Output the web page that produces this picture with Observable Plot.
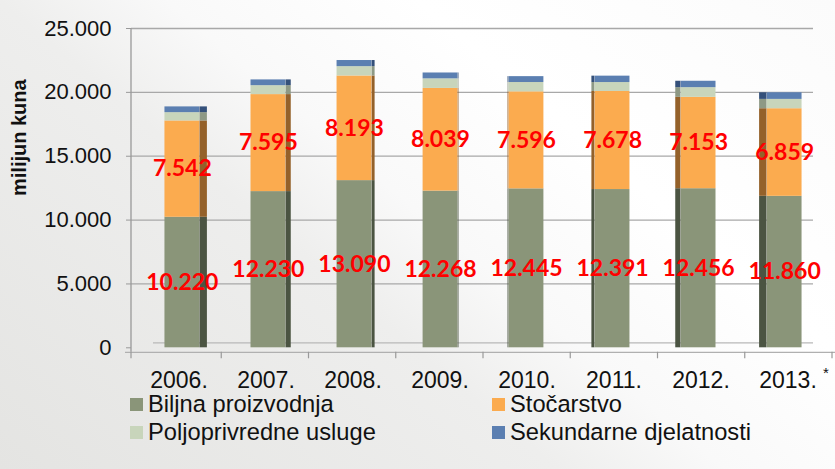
<!DOCTYPE html>
<html><head><meta charset="utf-8">
<script src="https://cdn.jsdelivr.net/npm/d3@7"></script>
<script src="https://cdn.jsdelivr.net/npm/@observablehq/plot@0.6"></script>
<style>
html,body{margin:0;padding:0;}
body{width:835px;height:469px;overflow:hidden;position:relative;font-family:"Liberation Sans",Arial,sans-serif;
 background:linear-gradient(40deg,#e4e4e2 0%,#eeeeed 40%,#f9f9f9 52%,#ffffff 70%,#fbfbfb 100%);}
#chart{position:absolute;left:0;top:0;}
#legend{position:absolute;left:130px;top:390px;display:grid;grid-template-columns:362px auto;}
.item{display:flex;align-items:center;font-size:23.7px;color:#111;height:28px;line-height:28px;white-space:nowrap;}
.sw{width:13px;height:13px;margin-right:5px;flex:none;}
</style></head><body><div id="chart"></div><div id="legend"></div>
<script>
const years = ["2006.","2007.","2008.","2009.","2010.","2011.","2012.","2013."];
const categories = ["Biljna proizvodnja","Stočarstvo","Poljoprivredne usluge","Sekundarne djelatnosti"];
const biljna = [10220,12230,13090,12268,12445,12391,12456,11860];
const stocarstvo = [7542,7595,8193,8039,7596,7678,7153,6859];
const usluge = [650,700,730,750,730,700,760,730];
const sekundarne = [450,450,480,460,460,500,500,520];
const yTicks = [0,5000,10000,15000,20000,25000];
const frontColors = ["#8a9579","#fbab4f","#c8d5bb","#5b7fb1"];
const sideColors = ["#4b5442","#94612a","#8e9985","#34507a"];

const series = [biljna, stocarstvo, usluge, sekundarne];
const data = years.flatMap((yr, i) => categories.map((c, j) => ({year: yr, cat: c, ci: j, value: series[j][i]})));
const fmt = v => d3.format(",")(v).replace(/,/g, ".");

const x0 = 134, x1 = 832;
const bw = (x1 - x0) / years.length, fw = 35;
const marks = [
  Plot.ruleY(yTicks.slice(1), {stroke: "#a8a8a8", strokeWidth: 1.3, insetRight: 22}),
  Plot.ruleY([0], {stroke: "#b8b8b8", strokeWidth: 1.2, dy: -5, insetLeft: 22, insetRight: 22}),
  Plot.ruleY([0], {stroke: "#b0b0b0", strokeWidth: 1.2, dy: 4.5, insetLeft: -6})
];
years.forEach((yr, i) => {
  const shift = -(i - 3.5) * 0.95;
  const side = (3.5 - i) * 2.2;
  const inL = (bw - fw) / 2 + shift, inR = (bw - fw) / 2 - shift;
  const rows = data.filter(d => d.year === yr);
  const sideOpts = side > 0
    ? {insetLeft: bw - inR, insetRight: inR - side}
    : {insetLeft: inL + side, insetRight: bw - inL};
  marks.push(Plot.barY(rows, {x: "year", y: "value", fill: d => d.cat + "|side", ...sideOpts}));
  marks.push(Plot.barY(rows, {x: "year", y: "value", fill: "cat", insetLeft: inL, insetRight: inR}));
  marks.push(Plot.text(rows.filter(d => d.ci < 2), Plot.stackY({
    x: "year", y: "value", text: d => fmt(d.value), dx: shift,
    fill: "#ff0000", fontSize: 23, fontWeight: "bold", fontFamily: "Lato, 'DejaVu Sans', sans-serif"
  })));
});
marks.push(
  Plot.axisY(yTicks, {anchor: "left", tickSize: 5, tickPadding: 15, fontSize: 22, tickFormat: fmt, label: null, stroke: "#999", fill: "#111"}),
  Plot.axisX({anchor: "bottom", tickSize: 0, tickPadding: 20, fontSize: 23, label: null, fill: "#111"}),
  Plot.text(["milijun kuna"], {frameAnchor: "left", rotate: -90, dx: -112, dy: 6, fontSize: 20, fontWeight: "bold", fill: "#111"}),
  Plot.text([years[years.length - 1]], {x: d => d, text: () => "*", frameAnchor: "bottom", dx: 38, dy: 26, fontSize: 15, fill: "#111"})
);

const chart = Plot.plot({
  width: 835, height: 390,
  marginLeft: 131, marginRight: 0, marginTop: 28, marginBottom: 39,
  style: {background: "transparent", fontFamily: "'Liberation Sans', Arial, sans-serif", overflow: "visible"},
  x: {type: "band", domain: years, range: [x0, x1], padding: 0},
  y: {domain: [0, 25000], range: [347.3, 28]},
  color: {domain: [...categories, ...categories.map(c => c + "|side")], range: [...frontColors, ...sideColors]},
  marks
});
document.getElementById("chart").appendChild(chart);

// decorative axis lines
const svg = d3.select(chart);
const ys = chart.scale("y");
svg.append("line").attr("x1", 131).attr("x2", 131).attr("y1", ys.apply(25000)).attr("y2", ys.apply(0) + 4.5)
  .attr("stroke", "#999").attr("stroke-width", 1.3);
for (let i = 0; i <= years.length; i++) {
  const xb = i === 0 ? 131 : x0 + i * bw;
  svg.append("line").attr("x1", xb).attr("x2", xb).attr("y1", ys.apply(0) + 4.5).attr("y2", ys.apply(0) + 11)
    .attr("stroke", "#999").attr("stroke-width", 1.2);
}

const legend = document.getElementById("legend");
[0, 1, 2, 3].forEach(j => {
  const it = document.createElement("div");
  it.className = "item";
  it.innerHTML = `<span class="sw" style="background:${frontColors[j]}"></span>${categories[j]}`;
  legend.appendChild(it);
});
</script></body></html>
